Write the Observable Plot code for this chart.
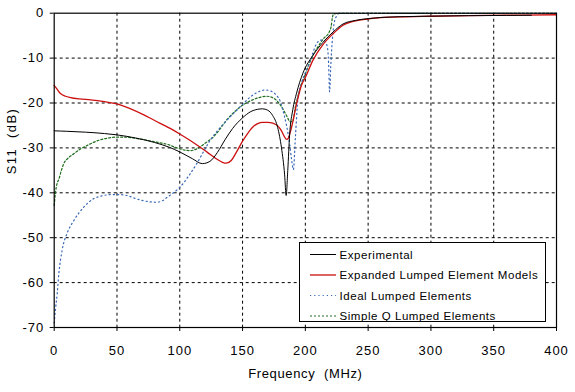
<!DOCTYPE html>
<html>
<head>
<meta charset="utf-8">
<script src="https://cdn.jsdelivr.net/npm/d3@7"></script>
<script src="https://cdn.jsdelivr.net/npm/@observablehq/plot@0.6"></script>
<style>
  html, body { margin: 0; padding: 0; background: white; }
  #wrap { position: relative; width: 575px; height: 392px; font-family: "Liberation Sans", Arial, sans-serif; }
  #legend { position: absolute; left: 299px; top: 242px; width: 245px; height: 78px; border: 1px solid black; background: white; }
  #legend svg { display: block; }
  .tick-lbl text { letter-spacing: 1px; }
</style>
</head>
<body>
<div id="wrap"></div>
<script>
// ---- data ----
const xTicks = [0, 50, 100, 150, 200, 250, 300, 350, 400];
const yTicks = [0, -10, -20, -30, -40, -50, -60, -70];
const xTitle = "Frequency  (MHz)";
const yTitle = "S11  (dB)";
const seriesNames = ["Experimental", "Expanded Lumped Element Models", "Ideal Lumped Elements", "Simple Q Lumped Elements"];

const expFreq = [0,10,25,40,50,65,80,92,100,110,118,124,130,136,142,150,156,162,166,170,174,178,181,183.5,184.7,186,187.5,190,193,198,206,214,222,230,240,250,260,280,300,330,360,380];
const expDb   = [-26.2,-26.3,-26.5,-26.8,-27.1,-27.8,-28.8,-29.9,-30.9,-32.4,-33.5,-33.0,-31.0,-28.2,-25.7,-23.3,-22.0,-21.4,-21.3,-21.6,-22.8,-25.5,-30,-36,-40.6,-35,-27,-21.5,-17.8,-13.4,-9.4,-6.5,-4.2,-2.4,-1.6,-1.2,-0.95,-0.75,-0.65,-0.55,-0.5,-0.45];

const elmFreq = [0,2,5,9,13,20,29,40,50,60,71,80,92,100,108,116,122,129,134,137,141,145,150,154,158,162,166,170,174,178,181,183.5,185,186.5,188,190,193,197,200,206,214,222,230,240,250,260,280,300,330,360,400];
const elmDb   = [-16.1,-16.8,-17.9,-18.5,-18.8,-19.1,-19.3,-19.7,-20.2,-21.2,-22.6,-23.9,-25.6,-26.9,-28.3,-29.8,-31,-32.4,-33.2,-33.4,-32.8,-31,-28.5,-26.8,-25.4,-24.6,-24.3,-24.3,-24.5,-25.1,-26.2,-27.6,-28.1,-27.8,-26.5,-24.2,-20.2,-16,-14.3,-10.5,-7,-4.6,-2.7,-1.7,-1.3,-1.0,-0.8,-0.68,-0.55,-0.45,-0.35];

const idealFreq = [0,1,2.4,3.7,6.3,10.3,15.6,23.5,31.4,38,44.7,52,58,64,70,76,81,86,90,95,100,107,113.5,119,124,130,135,140,145,150,156,162,168,173,177,180,182,185,187.5,189,190.5,192,194,197,200,204,208.7,212,215,217.5,218.5,219.3,220.2,221,222.5,224.5,226,230,260,400];
const idealDb   = [-69,-66,-62.4,-58,-52.8,-49,-46.2,-43.2,-41.3,-40.7,-40.4,-40.4,-40.6,-41.2,-41.7,-42,-42.1,-41.8,-41,-40,-38.8,-36.3,-33.5,-30.8,-28.4,-26.2,-24.6,-23.1,-21.7,-20.3,-18.7,-17.6,-17.1,-17.4,-18.3,-19.6,-21.5,-25,-29.1,-32.5,-34.8,-28,-19.4,-15.5,-13.3,-10.5,-6.9,-6.0,-6.1,-7.5,-11,-17.5,-12,-8,-3,-0.8,-0.15,-0.05,-0.05,-0.05];

const simpleFreq = [0,1,2.2,3.7,5.5,7.6,11,15.6,20,26,31,36.7,43,50,57,63,70,76,83,90,95,100,104,108,112,116,121,127,132,137,142,148,153,158,163,169,173,177,181,185,188,190,192,195,200,205,210,215,219,220.5,221.5,222.5,226,400];
const simpleDb   = [-42.8,-40,-38,-37,-35.2,-33.5,-32.3,-31.3,-30.4,-29.5,-28.8,-28.2,-27.8,-27.6,-27.6,-27.8,-28.1,-28.4,-28.8,-29.2,-29.7,-30.2,-30.5,-30.6,-30.4,-29.8,-28.8,-27.5,-25.8,-23.9,-22.4,-20.9,-20,-19.3,-18.8,-18.5,-18.7,-19.4,-20.8,-22.8,-24.2,-24.0,-21,-17.5,-13.5,-10,-7.5,-5.5,-4.2,-3,-1,-0.2,-0.05,-0.05];

// ---- styles ----
const styles = [
  {stroke: "#000000", strokeWidth: 1, dash: null},
  {stroke: "#cc1010", strokeWidth: 1.3, dash: null},
  {stroke: "#3a68b8", strokeWidth: 1.2, dash: "1.2,3"},
  {stroke: "#1e6e1e", strokeWidth: 1.2, dash: "2,2"}
];

const toRows = (fs, ds) => fs.map((f, i) => ({f, db: ds[i]}));
const series = [
  toRows(expFreq, expDb),
  toRows(elmFreq, elmDb),
  toRows(idealFreq, idealDb),
  toRows(simpleFreq, simpleDb)
];

const lineMark = (rows, s) => Plot.line(rows, {
  x: "f", y: "db", stroke: s.stroke, strokeWidth: s.strokeWidth,
  strokeDasharray: s.dash || undefined, curve: "monotone-x"
});

const chart = Plot.plot({
  width: 575,
  height: 392,
  marginLeft: 53.7,
  marginRight: 19,
  marginTop: 12.7,
  marginBottom: 65,
  style: {fontFamily: "'Liberation Sans', Arial, sans-serif", fontSize: "13px", color: "black", background: "white", overflow: "visible"},
  x: {domain: [0, 400]},
  y: {domain: [-70, 0]},
  marks: [
    Plot.gridX(xTicks.slice(1, -1), {stroke: "black", strokeOpacity: 1, strokeDasharray: "3,3"}),
    Plot.gridY(yTicks.slice(1, -1), {stroke: "black", strokeOpacity: 1, strokeDasharray: "3,3"}),
    Plot.axisX({ticks: xTicks, tickSize: 4, tickPadding: 14, tickFormat: d => String(d), label: null, className: "tick-lbl"}),
    Plot.axisY({ticks: yTicks, tickSize: 4, tickPadding: 6, tickFormat: d => String(d), label: null, className: "tick-lbl"}),
    lineMark(series[3], styles[3]),
    lineMark(series[2], styles[2]),
    lineMark(series[1], styles[1]),
    lineMark(series[0], styles[0]),
    Plot.frame({stroke: "black", strokeWidth: 1.2}),
    Plot.text([xTitle], {frameAnchor: "bottom", dy: 50, fontSize: 13, fill: "black", text: d => d, className: "xtitle"}),
    Plot.text([yTitle], {frameAnchor: "left", dx: -42, dy: 4, rotate: -90, fontSize: 13, fill: "black", text: d => d, className: "ytitle"})
  ]
});
chart.querySelectorAll("text").forEach(t => t.setAttribute("xml:space", "preserve"));
chart.querySelectorAll(".xtitle text").forEach(t => t.setAttribute("letter-spacing", "0.65px"));
chart.querySelectorAll(".ytitle text").forEach(t => t.setAttribute("letter-spacing", "1.4px"));

const wrap = document.getElementById("wrap");
wrap.appendChild(chart);

// ---- legend ----
const legend = document.createElement("div");
legend.id = "legend";
const ns = "http://www.w3.org/2000/svg";
const lsvg = document.createElementNS(ns, "svg");
lsvg.setAttribute("width", 245);
lsvg.setAttribute("height", 78);
seriesNames.forEach((name, i) => {
  const y = 11.5 + i * 20.5;
  const ln = document.createElementNS(ns, "line");
  ln.setAttribute("x1", 10); ln.setAttribute("x2", 36);
  ln.setAttribute("y1", y); ln.setAttribute("y2", y);
  ln.setAttribute("stroke", styles[i].stroke);
  ln.setAttribute("stroke-width", styles[i].strokeWidth);
  if (styles[i].dash) ln.setAttribute("stroke-dasharray", styles[i].dash);
  lsvg.appendChild(ln);
  const tx = document.createElementNS(ns, "text");
  tx.setAttribute("x", 39.5); tx.setAttribute("y", y + 4);
  tx.setAttribute("font-size", "11.5px");
  tx.setAttribute("letter-spacing", "0.55px");
  tx.setAttribute("font-family", "'Liberation Sans', Arial, sans-serif");
  tx.textContent = name;
  lsvg.appendChild(tx);
});
legend.appendChild(lsvg);
wrap.appendChild(legend);
</script>
</body>
</html>
